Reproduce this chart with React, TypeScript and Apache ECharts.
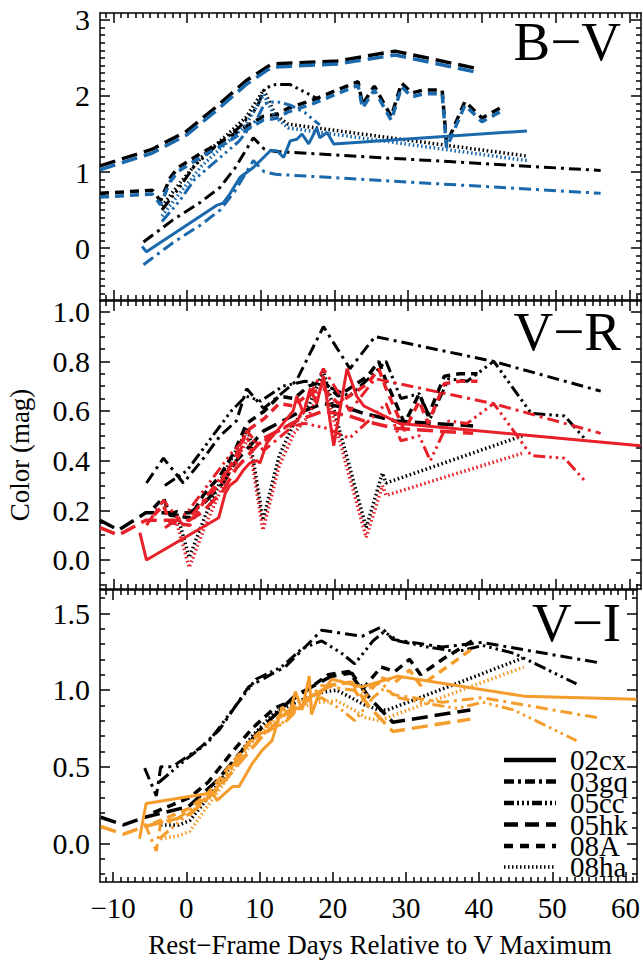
import React, { useEffect, useRef } from "react";
import * as echarts from "echarts";

// ---------- axes ----------
const X_MIN = -11.8;
const X_MAX = 61.57;
const X_TICKS = [-10, 0, 10, 20, 30, 40, 50, 60];
const BV_TICKS = [0, 1, 2, 3];
const VR_TICKS = [0, 0.2, 0.4, 0.6, 0.8, 1.0];
const VI_TICKS = [0, 0.5, 1.0, 1.5];
const PANEL_NAMES = ["B−V", "V−R", "V−I"];
const OBJECTS = ["02cx", "03gq", "05cc", "05hk", "08A", "08ha"];
const X_TITLE = "Rest−Frame Days Relative to V Maximum";
const Y_TITLE = "Color (mag)";

// ---------- B-V ----------
const BV_02cx_day = [-6.1, -5.5, 4.0, 4.9, 5.8, 7.2, 9.0, 11.3, 12.2, 13.1, 14.0, 14.9, 15.6, 16.5, 17.6, 18.0, 19.0, 19.9, 46.1];
const BV_02cx = [0.02, -0.05, 0.56, 0.59, 0.71, 0.93, 1.06, 1.28, 1.28, 1.19, 1.41, 1.43, 1.5, 1.37, 1.58, 1.45, 1.52, 1.37, 1.54];

const BV_03gq_day = [-5.9, -1.9, 1.8, 4.5, 6.5, 9.0, 10.5, 12.0, 56.1];
const BV_03gq_obs = [0.08, 0.37, 0.6, 0.8, 1.05, 1.45, 1.3, 1.27, 1.02];
const BV_03gq_cor = [-0.22, 0.07, 0.3, 0.5, 0.75, 1.15, 1.0, 0.97, 0.72];

const BV_05cc_day = [-3.4, -1, 1, 4, 7, 9.5, 10.5, 12, 14, 16, 18];
const BV_05cc_obs = [0.5, 0.8, 1.08, 1.35, 1.58, 1.85, 2.1, 2.15, 2.15, 2.05, 1.95];
const BV_05cc_cor = [0.35, 0.62, 0.9, 1.15, 1.4, 1.7, 1.9, 1.93, 1.88, 1.78, 1.62];

const BV_05hk_day = [-11.8, -4.7, 0, 4, 8, 11.5, 20.4, 28.2, 39.4];
const BV_05hk_obs = [1.08, 1.3, 1.54, 1.86, 2.2, 2.42, 2.46, 2.59, 2.36];
const BV_05hk_cor = [1.03, 1.25, 1.49, 1.81, 2.15, 2.38, 2.42, 2.54, 2.31];

const BV_08A_day = [-11.8, -4.7, -3.6, -2.3, -1.2, 1.8, 4.9, 6.7, 8.5, 10.3, 12.2, 13.7, 17.1, 20.4, 23.2, 23.8, 25.4, 27.7, 29.1, 30.5, 32.1, 34.6, 35.2, 37.7, 40.0, 42.8];
const BV_08A_obs = [0.72, 0.76, 0.62, 0.92, 1.06, 1.24, 1.41, 1.52, 1.63, 1.73, 1.76, 1.84, 1.95, 2.08, 2.19, 1.89, 2.13, 1.73, 2.17, 2.04, 2.08, 2.08, 1.37, 1.93, 1.71, 1.86];
const BV_08A_cor = [0.67, 0.71, 0.57, 0.87, 1.01, 1.19, 1.36, 1.47, 1.58, 1.68, 1.71, 1.79, 1.9, 2.03, 2.14, 1.84, 2.08, 1.68, 2.12, 1.99, 2.03, 2.03, 1.32, 1.88, 1.66, 1.81];

const BV_08ha_day = [-3.4, -1, 2, 5, 8, 10.4, 12, 13.7, 46.1];
const BV_08ha_obs = [0.55, 0.85, 1.2, 1.45, 1.72, 2.08, 1.75, 1.63, 1.21];
const BV_08ha_cor = [0.42, 0.72, 1.08, 1.35, 1.62, 2.02, 1.72, 1.58, 1.15];

// ---------- V-R ----------
const VR_02cx_day = [-6.4, -5.5, 4.3, 5.2, 5.8, 6.7, 7.6, 8.5, 9.5, 9.9, 10.8, 12.2, 14.4, 14.9, 15.8, 16.7, 17.6, 18.5, 19.9, 21.7, 23.0, 24.0, 28.8, 61.5];
const VR_02cx = [0.11, 0.0, 0.17, 0.27, 0.3, 0.32, 0.36, 0.39, 0.4, 0.39, 0.47, 0.52, 0.6, 0.66, 0.59, 0.69, 0.63, 0.74, 0.46, 0.77, 0.66, 0.62, 0.55, 0.46];

const VR_03gq_day = [-5.5, -3.2, -0.5, 2.0, 4.5, 6.7, 8.1, 10.4, 14.8, 18.5, 22.1, 25.5, 41.5, 56.1];
const VR_03gq_obs = [0.31, 0.41, 0.31, 0.4, 0.5, 0.56, 0.69, 0.61, 0.72, 0.94, 0.77, 0.9, 0.8, 0.68];
const VR_03gq_cor = [0.14, 0.24, 0.14, 0.23, 0.33, 0.39, 0.52, 0.44, 0.55, 0.77, 0.6, 0.73, 0.63, 0.51];

const VR_05cc_day = [-3.0, 0.0, 3.0, 6.0, 8.0, 10.0, 13.0, 16.0, 19.0, 22.0, 25.0, 27.0, 29.0, 31.5, 33.0, 35.5, 38.0, 41.6, 46.7, 51.2, 53.9];
const VR_05cc_obs = [0.3, 0.36, 0.48, 0.6, 0.66, 0.64, 0.7, 0.72, 0.7, 0.66, 0.74, 0.8, 0.65, 0.67, 0.57, 0.73, 0.72, 0.8, 0.59, 0.58, 0.49];
const VR_05cc_cor = [0.13, 0.19, 0.31, 0.43, 0.49, 0.47, 0.53, 0.55, 0.53, 0.49, 0.57, 0.63, 0.48, 0.5, 0.4, 0.56, 0.55, 0.63, 0.42, 0.41, 0.32];

const VR_05hk_day = [-11.8, -9.3, -5.6, 0.3, 2.0, 4.9, 6.7, 10.4, 14.9, 18.5, 22.0, 24.0, 28.2, 38.8];
const VR_05hk_obs = [0.16, 0.12, 0.19, 0.19, 0.22, 0.31, 0.4, 0.52, 0.59, 0.63, 0.61, 0.59, 0.56, 0.54];
const VR_05hk_cor = [0.13, 0.1, 0.16, 0.16, 0.19, 0.28, 0.37, 0.49, 0.56, 0.6, 0.58, 0.56, 0.53, 0.51];

const VR_08A_day = [-4.5, -3.2, -2.3, 0.4, 2.2, 4.5, 6.5, 8.1, 10.5, 12.5, 14.5, 16.5, 18.5, 20.5, 22.5, 24.5, 26.0, 27.0, 29.5, 31.5, 32.7, 34.9, 37.0, 39.4];
const VR_08A_obs = [0.21, 0.25, 0.18, 0.17, 0.26, 0.34, 0.44, 0.55, 0.6, 0.66, 0.65, 0.7, 0.72, 0.66, 0.7, 0.74, 0.8, 0.72, 0.55, 0.67, 0.58, 0.74, 0.75, 0.75];
const VR_08A_cor = [0.18, 0.22, 0.15, 0.14, 0.23, 0.31, 0.41, 0.52, 0.57, 0.63, 0.62, 0.67, 0.69, 0.63, 0.67, 0.71, 0.77, 0.69, 0.52, 0.64, 0.55, 0.71, 0.72, 0.72];

const VR_08ha_day = [-1.5, 0.3, 2.5, 5.0, 8.3, 10.3, 12.5, 14.5, 16.5, 18.5, 24.3, 26.5, 27.0, 45.5];
const VR_08ha_obs = [0.2, 0.01, 0.18, 0.35, 0.53, 0.16, 0.42, 0.55, 0.62, 0.76, 0.13, 0.35, 0.31, 0.5];
const VR_08ha_cor = [0.16, -0.03, 0.14, 0.31, 0.49, 0.12, 0.38, 0.51, 0.58, 0.72, 0.09, 0.3, 0.26, 0.43];

// ---------- V-I ----------
const VI_02cx_day = [-6.4, -5.5, 3.6, 4.2, 6.3, 7.2, 9.0, 10.4, 11.7, 13.1, 14.0, 14.9, 15.8, 16.8, 17.1, 18.0, 19.9, 24.0, 28.9, 46.1, 61.5];
const VI_02cx = [0.03, 0.26, 0.33, 0.28, 0.37, 0.37, 0.52, 0.61, 0.67, 0.89, 0.83, 0.99, 0.87, 1.09, 0.84, 0.96, 1.07, 1.02, 1.09, 0.96, 0.94];

const VI_03gq_day = [-5.7, -4.1, -3.5, -1.9, 1.8, 4.5, 8.5, 11.5, 13.5, 15.8, 18.5, 24.0, 26.6, 28.2, 35.0, 40.4, 56.1];
const VI_03gq_obs = [0.49, 0.31, 0.5, 0.5, 0.62, 0.74, 1.02, 1.1, 1.15, 1.26, 1.39, 1.35, 1.41, 1.33, 1.28, 1.31, 1.18];
const VI_03gq_cor = [0.13, -0.05, 0.14, 0.14, 0.26, 0.38, 0.66, 0.74, 0.79, 0.9, 1.03, 0.99, 1.05, 0.97, 0.92, 0.95, 0.82];

const VI_05cc_day = [-3.7, 0.0, 3.0, 6.0, 9.5, 13.0, 15.8, 18.5, 21.2, 23.0, 25.5, 27.0, 29.0, 33.0, 37.0, 40.5, 44.7, 53.3];
const VI_05cc_obs = [0.4, 0.55, 0.66, 0.85, 1.07, 1.15, 1.27, 1.32, 1.24, 1.17, 1.32, 1.38, 1.32, 1.28, 1.25, 1.29, 1.24, 1.04];
const VI_05cc_cor = [0.03, 0.18, 0.29, 0.48, 0.7, 0.78, 0.9, 0.95, 0.87, 0.8, 0.95, 1.01, 0.95, 0.91, 0.88, 0.92, 0.87, 0.67];

const VI_05hk_day = [-11.7, -8.6, -5.7, 0.3, 4.2, 7.0, 10.4, 14.8, 19.8, 22.6, 25.0, 28.2, 38.8];
const VI_05hk_obs = [0.17, 0.12, 0.17, 0.24, 0.41, 0.57, 0.76, 0.96, 1.09, 1.11, 0.95, 0.79, 0.87];
const VI_05hk_cor = [0.11, 0.06, 0.11, 0.18, 0.35, 0.51, 0.7, 0.9, 1.03, 1.05, 0.89, 0.73, 0.81];

const VI_08A_day = [-4.5, -2.0, 0.5, 3.0, 6.0, 9.0, 12.0, 14.0, 16.5, 19.4, 22.2, 24.0, 26.6, 28.5, 30.5, 32.0, 35.0, 39.4];
const VI_08A_obs = [0.2, 0.25, 0.3, 0.4, 0.58, 0.75, 0.88, 0.92, 1.0, 1.1, 1.12, 1.0, 1.15, 1.12, 1.2, 1.1, 1.2, 1.33];
const VI_08A_cor = [0.13, 0.18, 0.23, 0.33, 0.51, 0.68, 0.81, 0.85, 0.93, 1.03, 1.05, 0.93, 1.08, 1.05, 1.13, 1.03, 1.13, 1.28];

const VI_08ha_day = [-3.5, -1.0, 0.5, 3.0, 6.0, 9.0, 12.0, 15.0, 18.0, 20.5, 22.5, 24.5, 26.3, 27.5, 46.1];
const VI_08ha_obs = [0.12, 0.12, 0.15, 0.3, 0.5, 0.7, 0.85, 0.92, 0.98, 1.0, 0.95, 0.9, 0.87, 0.87, 1.21];
const VI_08ha_cor = [0.03, 0.05, 0.08, 0.25, 0.45, 0.66, 0.8, 0.88, 0.92, 0.93, 0.88, 0.82, 0.8, 0.82, 1.15];

// ---------- styling ----------
const FONT = "Liberation Serif";
const PANEL_COLORS = ["#1b69ad", "#e8202a", "#f59d2c"];
const DASH: Record<string, any> = {
  "02cx": "solid",
  "03gq": [12, 5, 3, 5],
  "05cc": [12, 4, 2.5, 4, 2.5, 4, 2.5, 4],
  "05hk": [16, 7],
  "08A": [9, 6],
  "08ha": [1.6, 2.6],
};
const WIDTH: Record<string, number> = { "02cx": 3, "03gq": 3, "05cc": 3, "05hk": 3.5, "08A": 3.5, "08ha": 3.5 };

const pts = (d: number[], v: number[]) => d.map((x, i) => [x, v[i]]);

type Obj = { name: string; day: number[]; obs?: number[]; cor: number[] };
const PANELS: { ticks: number[]; min: number; max: number; minorStep: number; dec: number; objs: Obj[] }[] = [
  {
    ticks: BV_TICKS, min: -0.684, max: 3.092, minorStep: 0.1, dec: 0,
    objs: [
      { name: "02cx", day: BV_02cx_day, cor: BV_02cx },
      { name: "03gq", day: BV_03gq_day, obs: BV_03gq_obs, cor: BV_03gq_cor },
      { name: "05cc", day: BV_05cc_day, obs: BV_05cc_obs, cor: BV_05cc_cor },
      { name: "05hk", day: BV_05hk_day, obs: BV_05hk_obs, cor: BV_05hk_cor },
      { name: "08A", day: BV_08A_day, obs: BV_08A_obs, cor: BV_08A_cor },
      { name: "08ha", day: BV_08ha_day, obs: BV_08ha_obs, cor: BV_08ha_cor },
    ],
  },
  {
    ticks: VR_TICKS, min: -0.117, max: 1.043, minorStep: 0.05, dec: 1,
    objs: [
      { name: "02cx", day: VR_02cx_day, cor: VR_02cx },
      { name: "03gq", day: VR_03gq_day, obs: VR_03gq_obs, cor: VR_03gq_cor },
      { name: "05cc", day: VR_05cc_day, obs: VR_05cc_obs, cor: VR_05cc_cor },
      { name: "05hk", day: VR_05hk_day, obs: VR_05hk_obs, cor: VR_05hk_cor },
      { name: "08A", day: VR_08A_day, obs: VR_08A_obs, cor: VR_08A_cor },
      { name: "08ha", day: VR_08ha_day, obs: VR_08ha_obs, cor: VR_08ha_cor },
    ],
  },
  {
    ticks: VI_TICKS, min: -0.252, max: 1.652, minorStep: 0.1, dec: 1,
    objs: [
      { name: "02cx", day: VI_02cx_day, cor: VI_02cx },
      { name: "03gq", day: VI_03gq_day, obs: VI_03gq_obs, cor: VI_03gq_cor },
      { name: "05cc", day: VI_05cc_day, obs: VI_05cc_obs, cor: VI_05cc_cor },
      { name: "05hk", day: VI_05hk_day, obs: VI_05hk_obs, cor: VI_05hk_cor },
      { name: "08A", day: VI_08A_day, obs: VI_08A_obs, cor: VI_08A_cor },
      { name: "08ha", day: VI_08ha_day, obs: VI_08ha_obs, cor: VI_08ha_cor },
    ],
  },
];

const GRIDS = [
  { top: 13, height: 287 },
  { top: 301, height: 288 },
  { top: 590, height: 292 },
];

function minorValues(min: number, max: number, step: number, majors: number[]) {
  const out: number[] = [];
  const start = Math.ceil(min / step - 1e-9);
  for (let k = start; k * step <= max + 1e-9; k++) {
    const v = Math.round(k * step * 1000) / 1000;
    if (!majors.some((m) => Math.abs(m - v) < 1e-6)) out.push(v);
  }
  return out;
}

const minus = (s: string) => s.replace("-", "−");

export default function App() {
  const ref = useRef<HTMLDivElement>(null);
  useEffect(() => {
    if (!ref.current) return;
    const chart = echarts.init(ref.current, undefined, { renderer: "svg" });
    const xAxes: any[] = [];
    const yAxes: any[] = [];
    const series: any[] = [];
    const xMinor = minorValues(X_MIN, X_MAX, 1, X_TICKS);
    const lineStyle = { color: "#000", width: 1.5 };

    PANELS.forEach((p, gi) => {
      const yMinor = minorValues(p.min, p.max, p.minorStep, p.ticks);
      const isBottom = gi === 2;
      (["bottom", "top"] as const).forEach((pos) => {
        xAxes.push({
          type: "value", gridIndex: gi, min: X_MIN, max: X_MAX, position: pos,
          axisLine: { show: true, onZero: false, lineStyle },
          axisTick: { show: true, inside: true, length: 10, customValues: X_TICKS, lineStyle },
          axisLabel: {
            show: isBottom && pos === "bottom", customValues: X_TICKS, margin: 11,
            fontFamily: FONT, fontSize: 29, color: "#000",
            formatter: (v: number) => minus(String(v)),
          },
          splitLine: { show: false },
        });
        xAxes.push({
          type: "value", gridIndex: gi, min: X_MIN, max: X_MAX, position: pos,
          axisLine: { show: false, onZero: false },
          axisTick: { show: true, inside: true, length: 5, customValues: xMinor, lineStyle },
          axisLabel: { show: false },
          splitLine: { show: false },
        });
      });
      (["left", "right"] as const).forEach((pos) => {
        yAxes.push({
          type: "value", gridIndex: gi, min: p.min, max: p.max, position: pos,
          axisLine: { show: true, onZero: false, lineStyle },
          axisTick: { show: true, inside: true, length: 10, customValues: p.ticks, lineStyle },
          axisLabel: {
            show: pos === "left", customValues: p.ticks, margin: 10,
            fontFamily: FONT, fontSize: 30, color: "#000",
            formatter: (v: number) => minus(v.toFixed(p.dec)),
          },
          splitLine: { show: false },
        });
        yAxes.push({
          type: "value", gridIndex: gi, min: p.min, max: p.max, position: pos,
          axisLine: { show: false, onZero: false },
          axisTick: { show: true, inside: true, length: 5, customValues: yMinor, lineStyle },
          axisLabel: { show: false },
          splitLine: { show: false },
        });
      });

      const xi = gi * 4;
      const yi = gi * 4;
      p.objs.forEach((o) => {
        if (!o.obs) return;
        series.push({
          type: "line", name: o.name + " obs", xAxisIndex: xi, yAxisIndex: yi,
          data: pts(o.day, o.obs), showSymbol: false, symbol: "none", silent: true, z: 2,
          lineStyle: { color: "#000", width: WIDTH[o.name], type: DASH[o.name], cap: "butt" },
        });
      });
      p.objs.forEach((o) => {
        series.push({
          type: "line", name: o.name, xAxisIndex: xi, yAxisIndex: yi,
          data: pts(o.day, o.cor), showSymbol: false, symbol: "none", silent: true,
          z: o.name === "02cx" ? 4 : 3,
          lineStyle: { color: PANEL_COLORS[gi], width: WIDTH[o.name], type: DASH[o.name], cap: "butt" },
        });
      });
    });

    const graphics: any[] = [];
    const labelY = [41, 331, 622];
    PANEL_NAMES.forEach((n, i) => {
      graphics.push({
        type: "text", x: 621, y: labelY[i], z: 10,
        style: { text: n, fontFamily: FONT, fontSize: 55, fill: "#000", align: "right", verticalAlign: "middle" },
      });
    });
    const legendY = [760, 781.5, 803, 824.5, 846, 867];
    const legendDash: Record<string, any> = {
      "02cx": null, "03gq": [10, 4, 3, 4], "05cc": [10, 3, 2, 3, 2, 3, 2, 3], "05hk": [14, 7], "08A": [9, 7], "08ha": [1.5, 2.5],
    };
    OBJECTS.forEach((n, i) => {
      graphics.push({
        type: "line", z: 10,
        shape: { x1: 504, y1: legendY[i], x2: 556, y2: legendY[i] },
        style: { stroke: "#000", lineWidth: n === "08ha" ? 3.5 : 4.5, lineDash: legendDash[n], lineCap: "butt" },
      });
      graphics.push({
        type: "text", x: 570, y: legendY[i], z: 10,
        style: { text: n, fontFamily: FONT, fontSize: 29, lineHeight: 21, fill: "#000", align: "left", verticalAlign: "middle" },
      });
    });
    graphics.push({
      type: "text", x: 380, y: 945, z: 10,
      style: { text: X_TITLE, fontFamily: FONT, fontSize: 27, fill: "#000", align: "center", verticalAlign: "middle" },
    });
    graphics.push({
      type: "text", x: 20, y: 455, rotation: Math.PI / 2, z: 10,
      style: { text: Y_TITLE, fontFamily: FONT, fontSize: 27, fill: "#000", align: "center", verticalAlign: "middle" },
    });

    chart.setOption({
      animation: false,
      backgroundColor: "#fff",
      textStyle: { fontFamily: FONT, color: "#000" },
      grid: GRIDS.map((g) => ({ left: 100, right: 2, top: g.top, height: g.height, containLabel: false })),
      xAxis: xAxes,
      yAxis: yAxes,
      series,
      graphic: graphics,
    });
    return () => chart.dispose();
  }, []);
  return (
    <div
      ref={ref}
      style={{ position: "absolute", left: 0, top: 0, width: 643, height: 960, background: "#fff" }}
    />
  );
}
